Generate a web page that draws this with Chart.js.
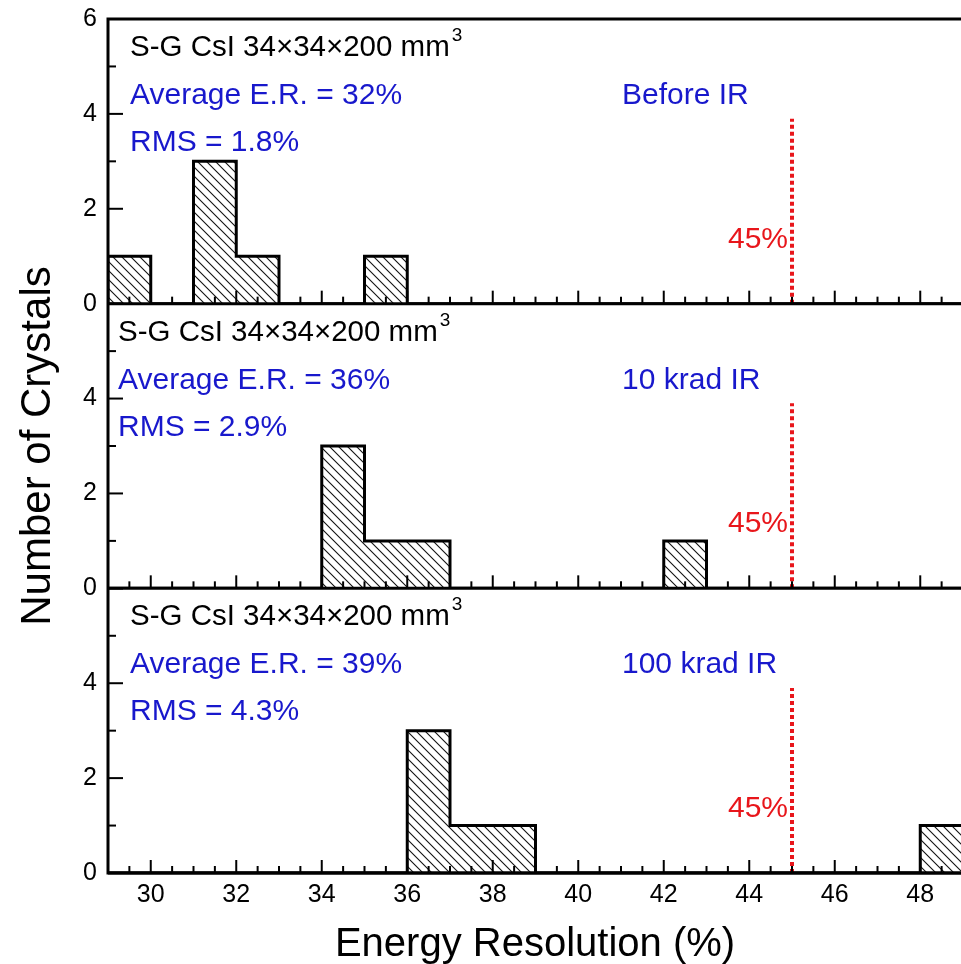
<!DOCTYPE html>
<html>
<head>
<meta charset="utf-8">
<script src="https://cdn.jsdelivr.net/npm/chart.js@4.4.1/dist/chart.umd.min.js"></script>
<style>
  html, body { margin: 0; padding: 0; background: #fff; overflow: hidden; }
  #chart { display: block; }
</style>
</head>
<body>
<canvas id="chart" width="963" height="964"></canvas>
<script>
/* globals Chart:false */

// bins are 1% wide, named by their left edge
const binLeft = [29, 30, 31, 32, 33, 34, 35, 36, 37, 38, 39, 40, 41, 42, 43, 44, 45, 46, 47, 48];
const binWidth = 1;

// number of crystals in each bin
const beforeIR = [1, 0, 3, 1, 0, 0, 1, 0, 0, 0, 0, 0, 0, 0, 0, 0, 0, 0, 0, 0];
const krad10IR = [0, 0, 0, 0, 0, 3, 1, 1, 0, 0, 0, 0, 0, 1, 0, 0, 0, 0, 0, 0];
const krad100IR = [0, 0, 0, 0, 0, 0, 0, 3, 1, 1, 0, 0, 0, 0, 0, 0, 0, 0, 0, 1];

const yTicks = [0, 2, 4, 6];
const xTicks = [30, 32, 34, 36, 38, 40, 42, 44, 46, 48];

// 45% spec line
const limitX = 45;
const limitTop = 3.9;
const limitLabel = '45%';

const crystalLabel = 'S-G CsI 34×34×200 mm';
const averageLabels = ['Average E.R. = 32%', 'Average E.R. = 36%', 'Average E.R. = 39%'];
const rmsLabels = ['RMS = 1.8%', 'RMS = 2.9%', 'RMS = 4.3%'];
const doseLabels = ['Before IR', '10 krad IR', '100 krad IR'];

(() => {
  'use strict'

  const FONT = '"Liberation Sans", Arial, Helvetica, sans-serif';
  const BLUE = '#1818cc';
  const RED = '#e8161b';
  Chart.defaults.font.family = FONT;
  Chart.defaults.color = '#000';

  // diagonal hatch "\\\\" for the histogram fill
  const hatch = (() => {
    const s = 9;
    const c = document.createElement('canvas');
    c.width = s; c.height = s;
    const g = c.getContext('2d');
    g.strokeStyle = '#111';
    g.lineWidth = 1.1;
    for (const k of [-s, 0, s]) {
      g.beginPath();
      g.moveTo(k - 1, -1);
      g.lineTo(k + s + 1, s + 1);
      g.stroke();
    }
    return g.createPattern(c, 'repeat');
  })();

  const stepPoints = (counts) => {
    const pts = [{x: binLeft[0], y: 0}];
    binLeft.forEach((b, i) => pts.push({x: b, y: counts[i]}));
    pts.push({x: binLeft[binLeft.length - 1] + binWidth, y: 0});
    return pts;
  };

  const panels = [
    {id: 'y1', counts: beforeIR, textX: 130},
    {id: 'y2', counts: krad10IR, textX: 118},
    {id: 'y3', counts: krad100IR, textX: 130}
  ];

  const datasets = [];
  panels.forEach((p) => {
    datasets.push({
      data: stepPoints(p.counts),
      yAxisID: p.id,
      stepped: 'before',
      borderColor: '#000',
      borderWidth: 3,
      borderJoinStyle: 'miter',
      backgroundColor: hatch,
      fill: 'origin',
      pointRadius: 0
    });
    datasets.push({
      data: [{x: limitX, y: 0}, {x: limitX, y: limitTop}],
      yAxisID: p.id,
      borderColor: RED,
      borderWidth: 4,
      borderDash: [4, 3],
      fill: false,
      pointRadius: 0
    });
  });

  const yScale = (weight, showTop) => ({
    type: 'linear',
    position: 'left',
    stack: 'panels',
    stackWeight: 1,
    weight: weight,
    min: 0,
    max: 6,
    afterBuildTicks: (s) => { s.ticks = yTicks.map((v) => ({value: v})); },
    ticks: {
      autoSkip: false,
      padding: 11,
      font: {size: 25},
      color: '#000',
      callback: (v) => (v === 6 && !showTop) ? '' : v
    },
    grid: {display: false, drawTicks: false},
    border: {display: false},
    afterFit: (s) => {
      s.width = 108;
      s.paddingTop = 0;
      s.paddingBottom = 0;
    }
  });

  const line = (ctx, x1, y1, x2, y2) => {
    ctx.beginPath();
    ctx.moveTo(x1, y1);
    ctx.lineTo(x2, y2);
    ctx.stroke();
  };

  const frameAndText = {
    id: 'frameAndText',
    afterDatasetsDraw(chart) {
      const {ctx, chartArea: {left, right, top, bottom}} = chart;
      const xs = chart.scales.x;
      ctx.save();
      ctx.strokeStyle = '#000';
      ctx.lineCap = 'butt';

      panels.forEach((p, i) => {
        const ys = chart.scales[p.id];
        const y0 = ys.getPixelForValue(0);
        const T = ys.getPixelForValue(6);

        // ticks pointing inwards
        ctx.lineWidth = 2;
        for (let v = binLeft[0]; v <= xs.max; v += 0.5) {
          const px = xs.getPixelForValue(v);
          line(ctx, px, y0, px, y0 - (v % 2 === 0 ? 13 : 7));
        }
        for (let v = 0; v <= 6; v++) {
          const py = ys.getPixelForValue(v);
          line(ctx, left, py, left + (v % 2 === 0 ? 15 : 8), py);
        }
        ctx.lineWidth = 3;
        line(ctx, left, y0, right, y0);

        // panel texts
        ctx.textAlign = 'left';
        ctx.textBaseline = 'alphabetic';
        ctx.fillStyle = '#000';
        ctx.font = '29.5px ' + FONT;
        ctx.fillText(crystalLabel, p.textX, T + 37);
        const w = ctx.measureText(crystalLabel).width;
        ctx.font = '19px ' + FONT;
        ctx.fillText('3', p.textX + w + 2, T + 22);

        ctx.fillStyle = BLUE;
        ctx.font = '30px ' + FONT;
        ctx.fillText(averageLabels[i], p.textX, T + 85);
        ctx.fillText(rmsLabels[i], p.textX, T + 132);
        ctx.fillText(doseLabels[i], 622, T + 85);

        ctx.fillStyle = RED;
        ctx.textAlign = 'right';
        ctx.fillText(limitLabel, xs.getPixelForValue(limitX) - 4, y0 - 56);
      });

      ctx.lineWidth = 3;
      ctx.strokeRect(left, top, right - left, bottom - top);

      // axis titles
      ctx.fillStyle = '#000';
      ctx.textAlign = 'center';
      ctx.textBaseline = 'alphabetic';
      ctx.font = '40px ' + FONT;
      ctx.fillText('Energy Resolution (%)', 535, 956);
      ctx.translate(50, 446);
      ctx.rotate(-Math.PI / 2);
      ctx.font = '42px ' + FONT;
      ctx.fillText('Number of Crystals', 0, 0);
      ctx.restore();
    }
  };

  // eslint-disable-next-line no-unused-vars
  const myChart = new Chart(document.getElementById('chart'), {
    type: 'line',
    data: {datasets: datasets},
    options: {
      responsive: false,
      animation: false,
      layout: {padding: {top: 19, left: 0, right: 0, bottom: 0}},
      plugins: {
        legend: {display: false},
        tooltip: {enabled: false}
      },
      scales: {
        x: {
          type: 'linear',
          min: binLeft[0],
          max: binLeft[binLeft.length - 1] + binWidth,
          afterBuildTicks: (s) => { s.ticks = xTicks.map((v) => ({value: v})); },
          ticks: {autoSkip: false, maxRotation: 0, padding: 7, font: {size: 25}, color: '#000'},
          grid: {display: false, drawTicks: false},
          border: {display: false},
          afterFit: (s) => {
            s.height = 91;
            s.paddingLeft = 0;
            s.paddingRight = 0;
          }
        },
        y1: yScale(3, true),
        y2: yScale(2, false),
        y3: yScale(1, false)
      }
    },
    plugins: [frameAndText]
  });
})();
</script>
</body>
</html>
